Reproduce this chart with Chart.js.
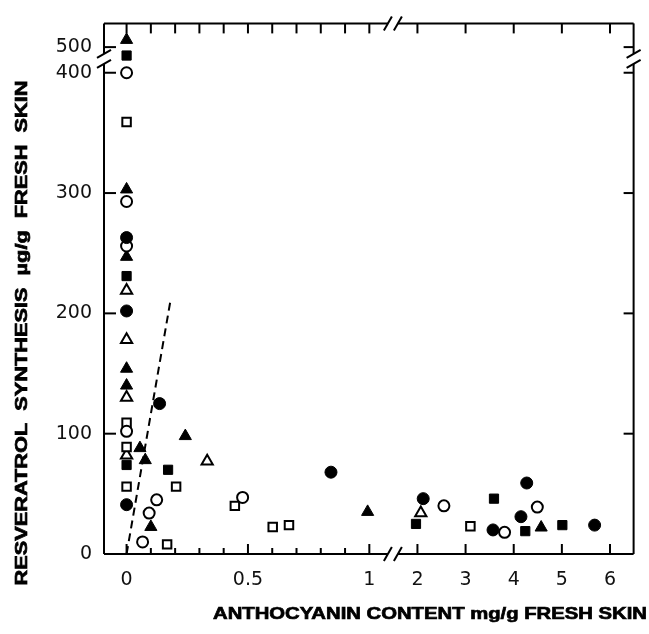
<!DOCTYPE html>
<html>
<head>
<meta charset="utf-8">
<script src="https://cdn.jsdelivr.net/npm/chart.js@4.4.1/dist/chart.umd.min.js"></script>
<style>
  html, body { margin: 0; padding: 0; background: #fff; }
  #wrap { width: 649px; height: 634px; }
</style>
</head>
<body>
<div id="wrap"><canvas id="chart"></canvas></div>
<script>
// [anthocyanin mg/g, resveratrol ug/g] for each symbol
const filledCircle = [[0, 263], [0, 202], [0.136, 125], [0, 41], [0.842, 68], [2.12, 46], [4.27, 59], [4.15, 31], [3.57, 20], [5.68, 24]];
const openCircle = [[0, 400], [0, 293], [0, 256], [0, 102], [0.478, 47], [0.124, 45], [0.093, 34], [0.066, 10], [2.55, 40], [4.49, 39], [3.81, 18]];
const filledSquare = [[0, 493], [0, 231], [0, 74], [0.171, 70], [1.97, 25], [3.59, 46], [4.24, 19], [5.01, 24]];
const openSquare = [[0, 359], [0, 109], [0, 89], [0, 56], [0.204, 56], [0.446, 40], [0.167, 8], [0.602, 22.5], [0.669, 24], [3.1, 23]];
const filledTriangle = [[0, 506], [0, 303], [0, 247], [0, 154], [0, 140], [0.242, 98], [0.055, 88], [0.077, 78], [0.1, 22.5], [0.993, 35], [4.57, 22]];
const openTriangle = [[0, 219], [0, 178], [0, 130], [0, 82], [0.332, 77], [2.07, 34]];
const dashedLine = [[0, 0], [0.182, 212]];

const xLeftTicks = [0, 0.5, 1];
const xLeftMinor = [0.1, 0.2, 0.3, 0.4, 0.6, 0.7, 0.8, 0.9];
const xRightTicks = [2, 3, 4, 5, 6];
const yLowTicks = [0, 100, 200, 300, 400];
const yTopTicks = [500];

const xTitle = 'ANTHOCYANIN CONTENT mg/g FRESH SKIN';
const yTitle = 'RESVERATROL  SYNTHESIS  µg/g  FRESH  SKIN';

const X_BREAK = 1.5;
const Y_BREAK = 450;

// put each point on the axis segment it belongs to
function split(points, style) {
    const parts = {};
    points.forEach(([x, y]) => {
        const xa = x > X_BREAK ? 'xR' : 'xL';
        const ya = y > Y_BREAK ? 'yTop' : 'yLow';
        const key = xa + ya;
        if (!parts[key]) {
            parts[key] = Object.assign({ xAxisID: xa, yAxisID: ya, data: [], clip: false }, style);
        }
        parts[key].data.push({ x: x, y: y });
    });
    return Object.values(parts);
}

const filled = { backgroundColor: '#000', borderColor: '#000', borderWidth: 1 };
const open = { backgroundColor: '#fff', borderColor: '#000', borderWidth: 2 };

const datasets = [].concat(
    split(filledCircle, Object.assign({ pointStyle: 'circle', pointRadius: 6 }, filled)),
    split(openCircle, Object.assign({ pointStyle: 'circle', pointRadius: 5.5 }, open)),
    split(filledSquare, Object.assign({ pointStyle: 'rect', pointRadius: 6.5 }, filled)),
    split(openSquare, Object.assign({ pointStyle: 'rect', pointRadius: 6 }, open)),
    split(filledTriangle, Object.assign({ pointStyle: 'triangle', pointRadius: 7 }, filled)),
    split(openTriangle, Object.assign({ pointStyle: 'triangle', pointRadius: 6.5 }, open)),
    split(dashedLine, { showLine: true, pointRadius: 0, borderColor: '#000', borderWidth: 2, borderDash: [8, 5] })
);

const tickFont = { family: '"DejaVu Sans", sans-serif', size: 19 };

function axis(extra, ticks) {
    return Object.assign({
        type: 'linear',
        grid: { display: false, drawTicks: false },
        border: { display: false },
        ticks: { font: tickFont, color: '#111', autoSkip: false, maxRotation: 0, callback: v => String(v) },
        afterBuildTicks: function(s) {
            s.ticks = ticks.map(v => ({ value: v }));
        }
    }, extra);
}

// the lower y segment is listed first so the layout puts it at the bottom
const scales = {
    yLow: axis({ position: 'left', stack: 'y', stackWeight: 502, min: 0, max: 411.5,
        afterFit: s => { s.width = 104; } }, yLowTicks),
    yTop: axis({ position: 'left', stack: 'y', stackWeight: 36, min: 490.2, max: 519.7,
        afterFit: s => { s.width = 104; } }, yTopTicks),
    xL: axis({ position: 'bottom', stack: 'x', stackWeight: 294, min: -0.093, max: 1.097,
        afterFit: s => { s.height = 80; } }, xLeftTicks),
    xR: axis({ position: 'bottom', stack: 'x', stackWeight: 245, min: 1.49, max: 6.49,
        afterFit: s => { s.height = 80; } }, xRightTicks)
};
scales.yTop.ticks.padding = 12;
scales.yLow.ticks.padding = 12;
scales.xL.ticks.padding = 15;
scales.xR.ticks.padding = 15;

function drawTitle(ctx, text, cx, cy, width, rotate) {
    ctx.save();
    ctx.translate(cx, cy);
    if (rotate) ctx.rotate(-Math.PI / 2);
    ctx.font = 'bold 17px "Liberation Sans", Arial, sans-serif';
    const w = ctx.measureText(text).width;
    ctx.scale(width / w, 1);
    ctx.textAlign = 'center';
    ctx.textBaseline = 'middle';
    ctx.fillStyle = '#000';
    ctx.strokeStyle = '#000';
    ctx.lineWidth = 0.7;
    ctx.fillText(text, 0, 0);
    ctx.strokeText(text, 0, 0);
    ctx.restore();
}

const frame = {
    id: 'frame',
    afterDraw(chart) {
        const { ctx, chartArea: a, scales: sc } = chart;
        const xb = sc.xR.left;
        const yb = sc.yTop.bottom;
        const gap = 5;
        ctx.save();
        ctx.strokeStyle = '#000';
        ctx.lineWidth = 2;
        const line = (x1, y1, x2, y2) => {
            ctx.beginPath(); ctx.moveTo(x1, y1); ctx.lineTo(x2, y2); ctx.stroke();
        };

        // top and bottom borders, broken at the x break
        [a.bottom, a.top].forEach(y => {
            line(a.left, y, xb - gap, y);
            line(xb + gap, y, a.right, y);
            line(xb - gap - 4, y + 7, xb - gap + 4, y - 7);
            line(xb + gap - 4, y + 7, xb + gap + 4, y - 7);
        });
        // left and right borders, broken at the y break
        [a.left, a.right].forEach(x => {
            line(x, a.top, x, yb - gap);
            line(x, yb + gap, x, a.bottom);
            line(x - 7, yb - gap + 4, x + 7, yb - gap - 4);
            line(x - 7, yb + gap + 4, x + 7, yb + gap - 4);
        });

        // inside ticks
        xLeftTicks.forEach(v => {
            const p = sc.xL.getPixelForValue(v);
            line(p, a.bottom, p, a.bottom - 10);
            line(p, a.top, p, a.top + 10);
        });
        xLeftMinor.forEach(v => {
            const p = sc.xL.getPixelForValue(v);
            line(p, a.bottom, p, a.bottom - 6);
            line(p, a.top, p, a.top + 10);
        });
        xRightTicks.forEach(v => {
            const p = sc.xR.getPixelForValue(v);
            line(p, a.bottom, p, a.bottom - 10);
            line(p, a.top, p, a.top + 10);
        });
        yLowTicks.slice(1).forEach(v => {
            const p = sc.yLow.getPixelForValue(v);
            line(a.left, p, a.left + 12, p);
            line(a.right, p, a.right - 10, p);
        });
        yTopTicks.forEach(v => {
            const p = sc.yTop.getPixelForValue(v);
            line(a.left, p, a.left + 12, p);
            line(a.right, p, a.right - 10, p);
        });
        ctx.restore();

        drawTitle(ctx, xTitle, 430, 614, 434, false);
        drawTitle(ctx, yTitle, 22, 333, 505, true);
    }
};

new Chart(document.getElementById('chart'), {
    type: 'scatter',
    data: { datasets: datasets },
    options: {
        responsive: true,
        maintainAspectRatio: false,
        animation: false,
        layout: { padding: { top: 16, right: 6, left: 0, bottom: 0 } },
        plugins: { legend: { display: false }, tooltip: { enabled: false } },
        scales: scales
    },
    plugins: [frame]
});
</script>
</body>
</html>
